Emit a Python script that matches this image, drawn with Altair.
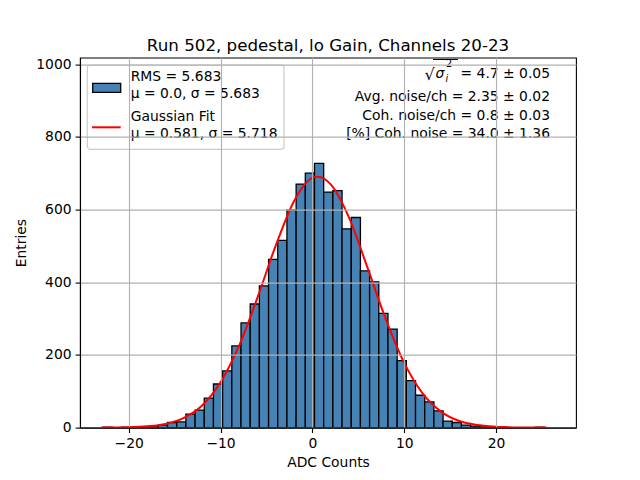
import altair as alt
import pandas as pd

# ---- data ----
bin_start = -22.77
bin_width = 1.0
counts = [1, 0, 1, 1, 2, 5, 7, 14, 16, 37, 48, 81, 120, 156, 225, 288, 340, 390,
          463, 515, 598, 670, 700,
          727, 648, 652, 547, 578, 431, 401, 314, 271, 184, 129, 89, 71, 46, 18,
          14, 7, 4, 2, 1, 1, 0, 0, 0, 1]

fit_x = [-23, -20, -18, -16, -14, -12, -10, -8, -6, -4, -2, 0, 0.6, 2, 4, 6, 8,
         10, 12, 14, 16, 18, 20, 22, 25.5]
fit_y = [0, 1, 3.5, 10, 27, 61, 125, 224, 356, 500, 623, 687, 690, 669, 577,
         440, 298, 178, 94, 44, 18, 7, 2, 0.6, 0]

title_text = "Run 502, pedestal, lo Gain, Channels 20-23"
legend_lines = ["RMS = 5.683", "μ = 0.0, σ = 5.683", "Gaussian Fit",
                "μ = 0.581, σ = 5.718"]
info_first = "= 4.7 ± 0.05"
info_lines = ["Avg. noise/ch = 2.35 ± 0.02",
              "Coh. noise/ch = 0.8 ± 0.03", "[%] Coh. noise = 34.0 ± 1.36"]
x_ticks = [-20, -10, 0, 10, 20]
y_ticks = [0, 200, 400, 600, 800, 1000]

# ---- tables ----
hist = pd.DataFrame({
    "lo": [bin_start + i * bin_width for i in range(len(counts))],
    "hi": [bin_start + (i + 1) * bin_width for i in range(len(counts))],
    "n": counts,
})
hist = hist[hist["n"] > 0]
fit = pd.DataFrame({"x": fit_x, "y": fit_y})
one = pd.DataFrame({"a": [0]})

FONT = "DejaVu Sans"
FS = 13.9
xscale = alt.Scale(domain=[-25.3, 28.7], nice=False, zero=False)
yscale = alt.Scale(domain=[0, 1018], nice=False)

bars = alt.Chart(hist).mark_rect(
    color="#4682b4", stroke="black", strokeWidth=1.3
).encode(
    x=alt.X("lo:Q", scale=xscale,
            axis=alt.Axis(values=x_ticks, title="ADC Counts", zindex=1)),
    x2="hi:Q",
    y=alt.Y("n:Q", scale=yscale,
            axis=alt.Axis(values=y_ticks, title="Entries", format="d", zindex=1)),
    y2=alt.datum(0),
)

curve = alt.Chart(fit).mark_line(
    color="red", strokeWidth=2.0, interpolate="monotone"
).encode(x="x:Q", y="y:Q")

layers = [bars, curve]


def txt(s, x, y, align="left", size=FS, style="normal"):
    return alt.Chart(one).mark_text(
        text=s, align=align, baseline="alphabetic", font=FONT, fontSize=size,
        fontStyle=style, color="black", x=x, y=y)


# legend box
layers.append(alt.Chart(one).mark_rect(
    fill="white", fillOpacity=0.8, stroke="#cccccc", strokeWidth=1.2,
    cornerRadius=3
).encode(x=alt.value(7.3), x2=alt.value(204), y=alt.value(7.4), y2=alt.value(91.7)))
layers.append(alt.Chart(one).mark_rect(
    fill="#4682b4", stroke="black", strokeWidth=1.3
).encode(x=alt.value(12.7), x2=alt.value(40.7), y=alt.value(25.7), y2=alt.value(34.7)))
layers.append(alt.Chart(one).mark_rule(color="red", strokeWidth=2.0).encode(
    x=alt.value(12), x2=alt.value(40.7), y=alt.value(69.7)))
for s, yb in zip(legend_lines, [23.4, 40.7, 63.4, 80.7]):
    layers.append(txt(s, 50.7, yb))

# info text top right
layers.append(txt(info_first, 470, 20.9, align="right"))
layers.append(txt("√", 344.5, 22.5, size=16))
layers.append(txt("σ", 355.5, 20.9, style="italic"))
layers.append(txt("i", 365.5, 24.3, size=9.7, style="italic"))
layers.append(txt("2", 366, 9.0, size=9.7))
layers.append(alt.Chart(one).mark_rule(color="black", strokeWidth=1).encode(
    x=alt.value(353), x2=alt.value(378), y=alt.value(1.9)))
for s, yb in zip(info_lines, [43.4, 62.4, 80.1]):
    layers.append(txt(s, 470, yb, align="right"))

chart = alt.layer(*layers).properties(
    width=496, height=370,
    title=alt.TitleParams(title_text, font=FONT, fontSize=16.7,
                          fontWeight="normal", color="black", anchor="middle",
                          baseline="alphabetic", offset=-10.5, frame="group"),
    autosize=alt.AutoSizeParams(type="none"),
    padding={"left": 72, "top": 49.6, "right": 56, "bottom": 45},
).configure_view(
    stroke="black", strokeWidth=1.1
).configure_axis(
    labelFont=FONT, labelFontSize=FS, labelColor="black",
    titleFont=FONT, titleFontSize=FS, titleFontWeight="normal", titleColor="black",
    tickColor="black", tickSize=4.9, tickWidth=1.1, labelPadding=4,
    domainColor="black", domainWidth=1.1,
    grid=True, gridColor="#b0b0b0", gridWidth=1.1, gridOpacity=1,
).configure_axisX(titlePadding=5).configure_axisY(titlePadding=7)

chart.save("out.html", embed_options={"renderer": "svg", "actions": False})
